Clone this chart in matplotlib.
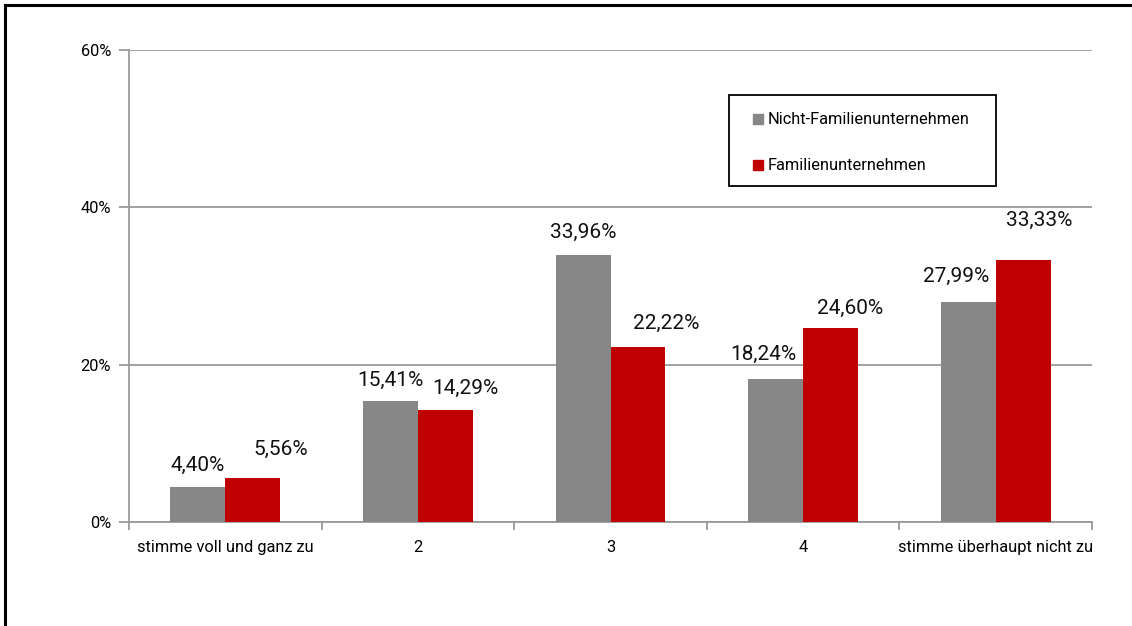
import matplotlib.pyplot as plt
from matplotlib.patches import Rectangle
from matplotlib.ticker import FuncFormatter
import numpy as np

plt.rcParams['font.family'] = ['Roboto', 'DejaVu Sans']

categories = ['stimme voll und ganz zu', '2', '3', '4', 'stimme überhaupt nicht zu']
nicht_familie = [4.40, 15.41, 33.96, 18.24, 27.99]
familie = [5.56, 14.29, 22.22, 24.60, 33.33]
series_names = ['Nicht-Familienunternehmen', 'Familienunternehmen']

# label nudges in pixels (dx, dy above bar top)
off_nicht = [(0, 22), (0, 20), (0, 22), (-12, 24), (-12, 25)]
off_fam = [(28, 29), (20, 21), (28, 24), (20, 20), (16, 39)]

gray = '#878787'
red = '#c00000'
axis_gray = '#9a9a9a'

W, H = 1132, 626
fig = plt.figure(figsize=(W / 100, H / 100), dpi=100)
ax = fig.add_axes([129 / W, 1 - 522 / H, (1092 - 129) / W, (522 - 50) / H])

x = np.arange(len(categories))
w = 0.285
b1 = ax.bar(x - w / 2, nicht_familie, w, color=gray, zorder=3)
b2 = ax.bar(x + w / 2, familie, w, color=red, zorder=3)

for bars, vals, offs in [(b1, nicht_familie, off_nicht), (b2, familie, off_fam)]:
    for bar, v, (dx, dy) in zip(bars, vals, offs):
        ax.annotate(f'{v:.2f}%'.replace('.', ','),
                    (bar.get_x() + bar.get_width() / 2, v),
                    xytext=(dx, dy), textcoords='offset pixels',
                    ha='center', va='center', fontsize=15, color='#111111',
                    zorder=4)

ax.set_xlim(-0.5, len(categories) - 0.5)
ax.set_ylim(0, 60)
ax.set_yticks([0, 20, 40, 60])
ax.yaxis.set_major_formatter(FuncFormatter(lambda v, p: f'{v:.0f}%'))
ax.grid(axis='y', color=axis_gray, linewidth=1.3, zorder=0)

ax.set_xticks(x)
ax.set_xticklabels(categories)
ax.set_xticks(np.arange(-0.5, len(categories)), minor=True)
ax.tick_params(axis='x', which='major', length=0, pad=13, labelsize=11.8)
ax.tick_params(axis='x', which='minor', length=6, color=axis_gray, width=1.3)
ax.tick_params(axis='y', length=7, color=axis_gray, width=1.3, pad=6, labelsize=11.8)

for s in ['top', 'right']:
    ax.spines[s].set_visible(False)
for s in ['left', 'bottom']:
    ax.spines[s].set_color(axis_gray)
    ax.spines[s].set_linewidth(1.3)

# legend box drawn by hand in figure pixels
def px(xp, yp):
    return xp / W, 1 - yp / H

fig.patches.append(Rectangle(px(729, 186), 267 / W, 91 / H, transform=fig.transFigure,
                             fill=False, edgecolor='black', linewidth=1.3))
for name, col, yc in [(series_names[0], gray, 119), (series_names[1], red, 165)]:
    fig.patches.append(Rectangle(px(753, yc + 5), 10 / W, 10 / H,
                                 transform=fig.transFigure, color=col))
    fig.text(*px(768, yc), name, ha='left', va='center', fontsize=11.8)

# outer frame: only left and top edges fall inside the image
fig.patches.append(Rectangle((5 / W, -0.1), 1.2, 1 - 5 / H + 0.1,
                             transform=fig.transFigure, fill=False,
                             edgecolor='black', linewidth=2.2))

fig.savefig('out.png', dpi=100)
